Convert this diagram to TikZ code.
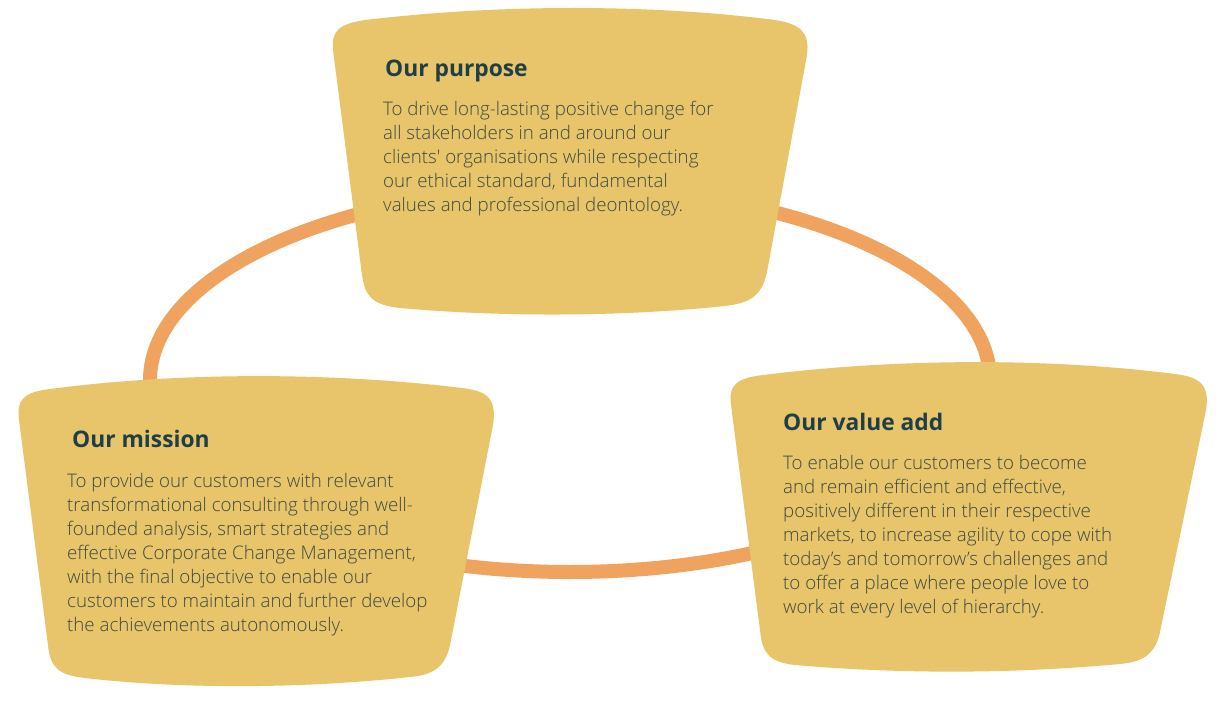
\documentclass[tikz,border=0pt]{standalone}
\usepackage{fontspec}
\setmainfont{Open Sans}
\newfontfamily\bodyfont{Open Sans Light}
\definecolor{boxfill}{HTML}{E8C46A}
\definecolor{ringc}{HTML}{F0A35E}
\definecolor{titlec}{HTML}{1F3F48}
\definecolor{bodyc}{HTML}{3E4A42}
\tikzset{
  blob/.style={fill=boxfill},
  ringline/.style={draw=ringc, line width=14pt},
  ttl/.style={anchor=base west, inner sep=0pt, font=\bfseries\fontsize{22.8}{26}\selectfont, text=titlec},
  bodytxt/.style={anchor=base west, inner sep=0pt, align=left, font=\bodyfont\fontsize{18.7}{24}\selectfont, text=bodyc},
}
\begin{document}
\begin{tikzpicture}[x=1pt,y=-1pt]
\useasboundingbox (0,0) rectangle (1223,711);
% ring
\draw[ringline] (570,380) ellipse [x radius=420, y radius=192];
% purpose box
\path[blob] (333,50) .. controls (331,30) and (340,24) .. (365,20)
  .. controls (500,4) and (650,4) .. (775,20)
  .. controls (800,24) and (810,32) .. (807,55)
  -- (767,272)
  .. controls (762,296) and (750,303) .. (725,306)
  .. controls (620,317) and (500,317) .. (400,308)
  .. controls (372,305) and (365,296) .. (362,275)
  -- cycle;
% mission box
\path[blob] (19,420) .. controls (16,398) and (26,392) .. (50,389)
  .. controls (180,372) and (330,372) .. (462,388)
  .. controls (487,391) and (497,398) .. (493,425)
  -- (450,645)
  .. controls (445,668) and (432,675) .. (410,677)
  .. controls (300,689) and (180,689) .. (85,678)
  .. controls (58,675) and (50,667) .. (48,645)
  -- cycle;
% value box
\path[blob] (731,405) .. controls (728,384) and (738,378) .. (763,375)
  .. controls (900,358) and (1050,358) .. (1175,374)
  .. controls (1200,377) and (1210,385) .. (1206,410)
  -- (1160,632)
  .. controls (1155,655) and (1142,662) .. (1120,664)
  .. controls (1010,674) and (900,674) .. (795,665)
  .. controls (768,662) and (762,652) .. (760,630)
  -- cycle;
% texts (body nodes anchored at the baseline of their last line)
\node[ttl] (ptitle) at (385,77) {Our purpose};
\node[bodytxt] (pbody) at (383,212) {To drive long-lasting positive change for\\
all stakeholders in and around our\\
clients\textquotesingle\ organisations while respecting\\
our ethical standard, fundamental\\
values and professional deontology.};
\node[ttl] (mtitle) at (72,447) {Our mission};
\node[bodytxt] (mbody) at (67,631) {To provide our customers with relevant\\
transformational consulting through well-\\
founded analysis, smart strategies and\\
effective Corporate Change Management,\\
with the final objective to enable our\\
customers to maintain and further develop\\
the achievements autonomously.};
\node[ttl] (vtitle) at (783,430) {Our value add};
\node[bodytxt] (vbody) at (783,613) {To enable our customers to become\\
and remain efficient and effective,\\
positively different in their respective\\
markets, to increase agility to cope with\\
today’s and tomorrow’s challenges and\\
to offer a place where people love to\\
work at every level of hierarchy.};
\end{tikzpicture}
\end{document}
